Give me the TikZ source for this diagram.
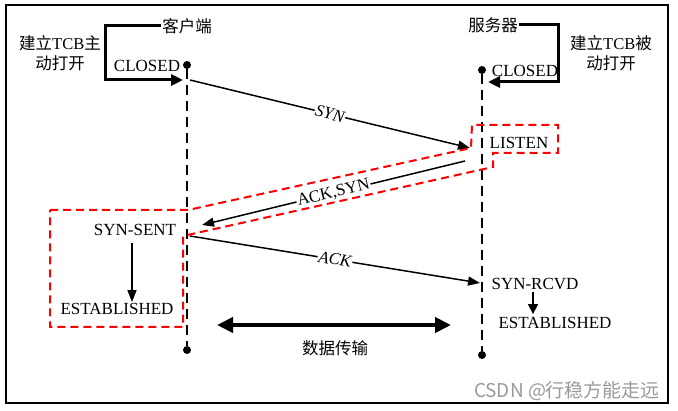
\documentclass[tikz,border=0pt]{standalone}
\usepackage{fontspec}
\setmainfont{Liberation Serif}
\newfontfamily\cjk{Noto Sans CJK SC}
\usetikzlibrary{arrows.meta}
\begin{document}
\begin{tikzpicture}[x=1pt,y=-1pt,
  lbl/.style={font=\fontsize{17}{19}\selectfont, inner sep=1pt},
  cjklbl/.style={font=\cjk\fontsize{16.5}{20}\selectfont, align=center, inner sep=1pt},
  mixlbl/.style={font=\fontsize{16.5}{20}\selectfont, align=center, inner sep=1pt},
  life/.style={line width=2.5pt, dash pattern=on 10pt off 6pt},
  dot/.style={circle, fill=black, inner sep=0pt, minimum size=8pt},
  msg/.style={line width=1.5pt, -{Triangle[length=12pt,width=9pt]}},
  bracket/.style={line width=3pt, -{Triangle[length=12pt,width=11pt]}},
  msglbl/.style={font=\fontsize{17}{19}\selectfont, fill=white, inner sep=1pt, sloped},
  redbox/.style={red, line width=2pt, dash pattern=on 8pt off 5pt},
]
\useasboundingbox (0,0) rectangle (678,411);
% outer frame
\draw[line width=2pt] (6,5) rectangle (668,403);

% lifelines
\node[dot] (ctop) at (187,65) {};
\node[dot] (cbot) at (187,350) {};
\node[dot] (stop) at (482,70) {};
\node[dot] (sbot) at (482,355) {};
\draw[life] (ctop) -- (cbot);
\draw[life] (stop) -- (sbot);

% headers and opening brackets
\node[cjklbl] (client) at (187,26) {客户端};
\node[cjklbl] (server) at (493,25) {服务器};
\node[mixlbl] (act) at (60,53) {{\cjk 建立}TCB{\cjk 主}\\{\cjk 动打开}};
\node[mixlbl] (pas) at (611,53) {{\cjk 建立}TCB{\cjk 被}\\{\cjk 动打开}};
\coordinate (cin) at (183,80);
\coordinate (sin) at (488,82);
\draw[bracket] (client.west) -- (105,26) |- (cin);
\draw[bracket] (server.east) -- (558,25) |- (sin);
\node[lbl] (cclosed) at (147,66) {CLOSED};
\node[lbl] (sclosed) at (525,71) {CLOSED};

% states
\node[lbl] (listen) at (519,143) {LISTEN};
\node[lbl] (ssent) at (135,230) {SYN-SENT};
\node[lbl] (est1) at (117,309) {ESTABLISHED};
\node[lbl] (srcvd) at (535,284) {SYN-RCVD};
\node[lbl] (est2) at (555,323) {ESTABLISHED};

% handshake messages
\coordinate (syn0) at (190,80);
\coordinate (syn1) at (470,148);
\coordinate (sa0) at (465,161);
\coordinate (sa1) at (202,225);
\coordinate (ack0) at (190,236);
\coordinate (ack1) at (480,283);
\draw[msg] (syn0) -- node[msglbl, font=\fontsize{17}{19}\selectfont\itshape] {SYN} (syn1);
\draw[msg] (sa0) -- node[msglbl] {ACK,SYN} (sa1);
\draw[msg] (ack0) -- node[msglbl, font=\fontsize{17}{19}\selectfont\itshape] {ACK} (ack1);

% state transitions
\draw[msg] ([xshift=-3pt,yshift=-6pt]ssent.south) -- ([xshift=-3pt]ssent.south |- est1.north);
\draw[msg, -{Triangle[length=10pt,width=10pt]}] ([xshift=-2pt,yshift=-1pt]srcvd.south) -- ([xshift=-2pt,yshift=2pt]srcvd.south |- est2.north);

% highlighted region
\draw[redbox] (50,210) -- (188,210) -- (471,148) -- (472,125) -- (558,125) -- (558,153)
  -- (493,153) -- (493,167) -- (183,236) -- (183,327) -- (50,327) -- cycle;

% data transfer
\coordinate (d0) at (217,325);
\coordinate (d1) at (451,325);
\draw[line width=4.5pt, {Triangle[length=16pt,width=15pt]}-{Triangle[length=16pt,width=15pt]}] (d0) -- (d1);
\node[cjklbl] (data) at (335,348) {数据传输};

% watermark
\node[font=\cjk\fontsize{19}{21}\selectfont, text=black!40, inner sep=0pt] (wm) at (567,391) {CSDN @行稳方能走远};
\end{tikzpicture}
\end{document}
